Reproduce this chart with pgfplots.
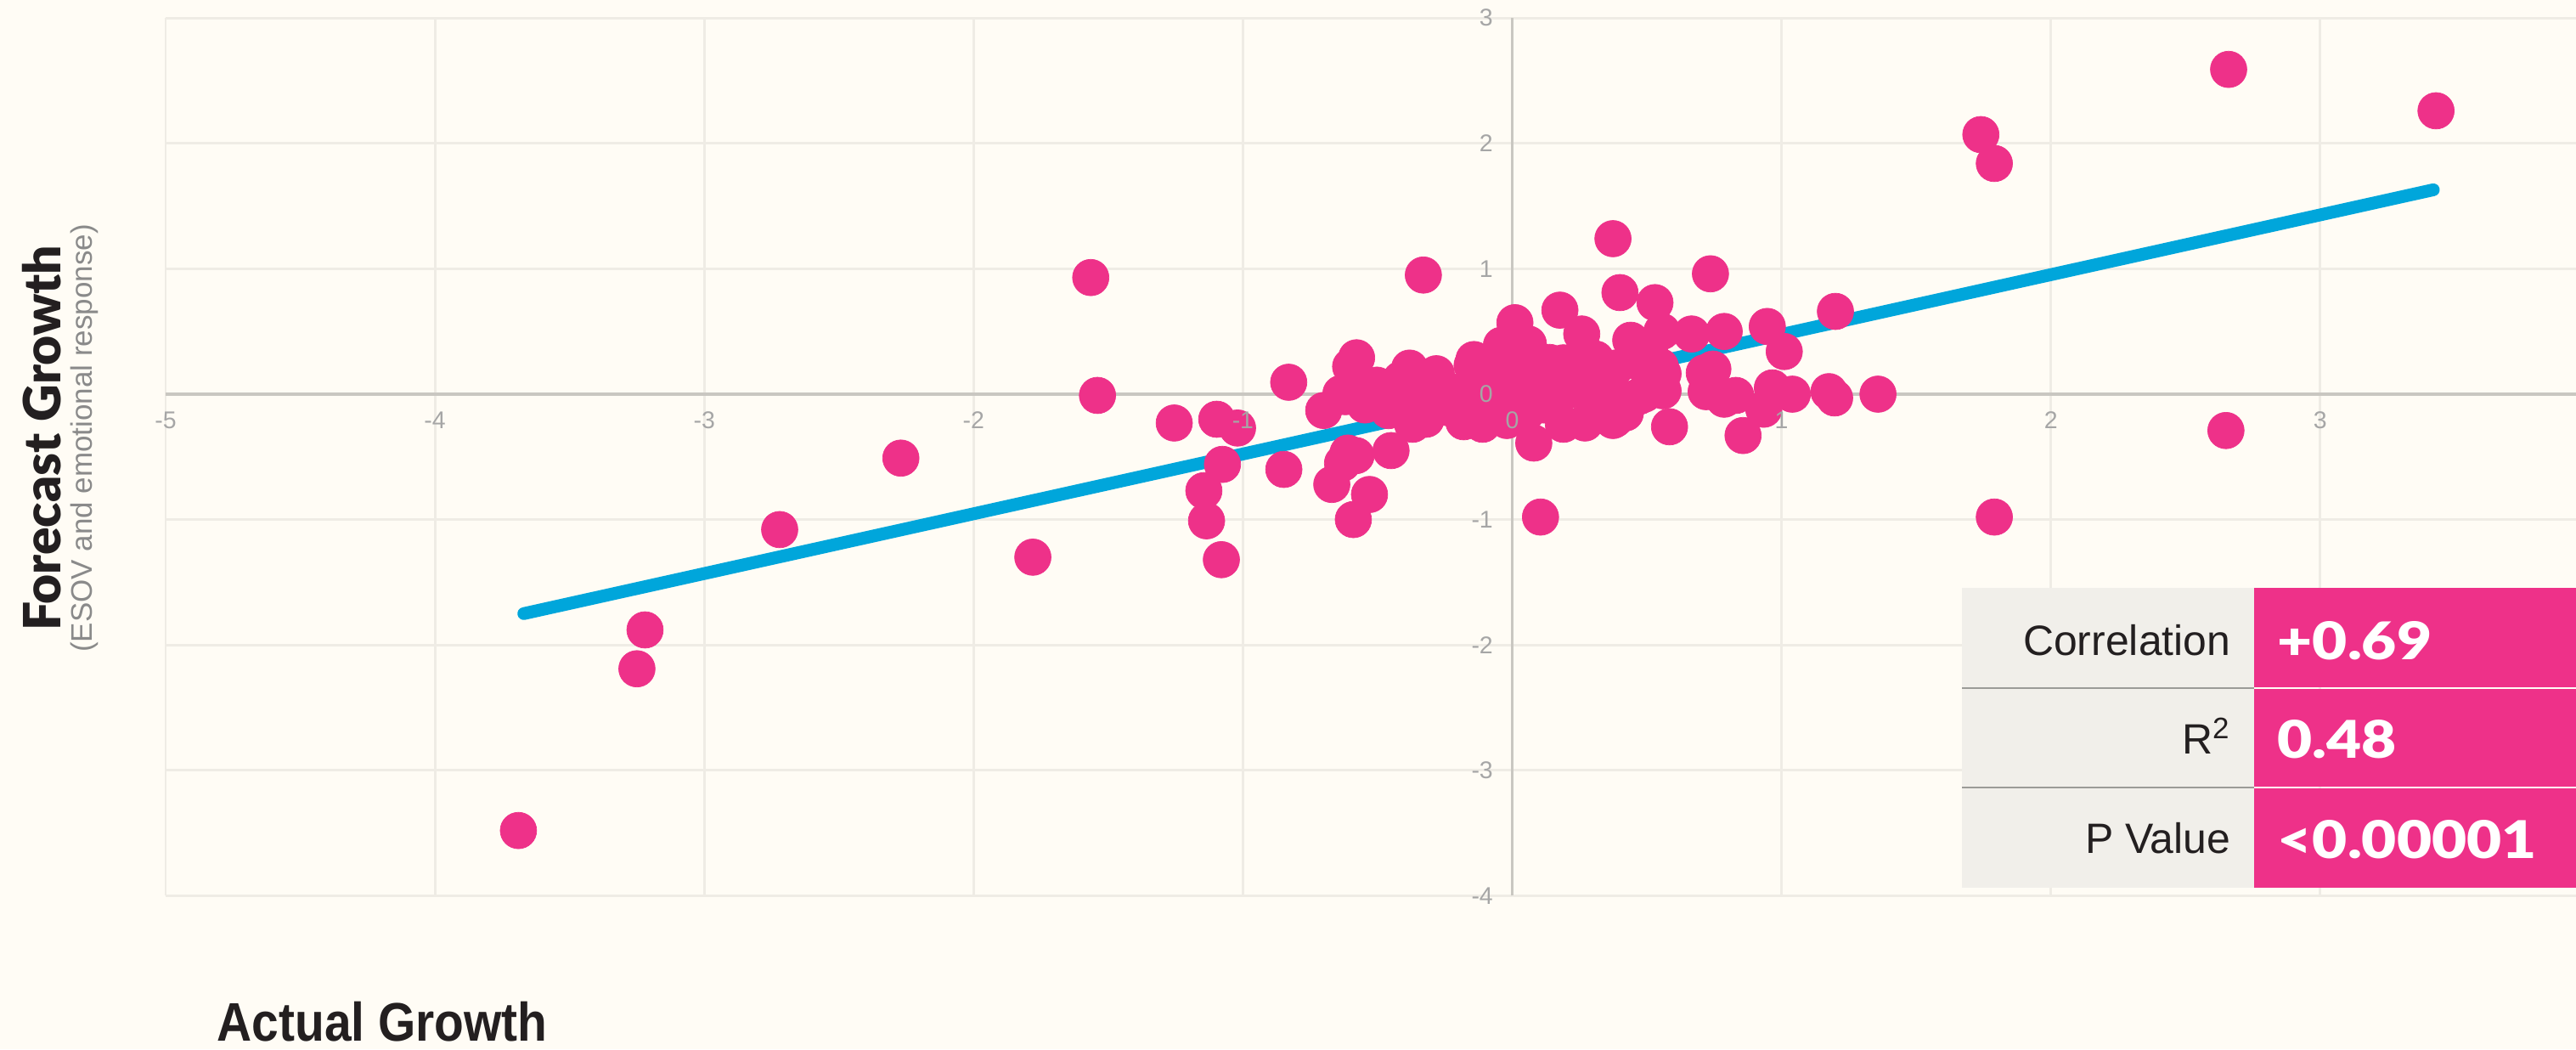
\documentclass[border=0pt]{standalone}
\usepackage{fontspec}
\setmainfont{Liberation Sans}
\newfontfamily\heavy{Lato Black}
\usepackage{graphicx}
\usepackage{pgfplots}
\pgfplotsset{compat=1.18}
\definecolor{bg}{HTML}{FFFCF5}
\definecolor{gridc}{HTML}{EFECE5}
\definecolor{axisc}{HTML}{C9C7C1}
\definecolor{tickc}{HTML}{A6A6A6}
\definecolor{dotc}{HTML}{EE3189}
\definecolor{linec}{HTML}{00A6DB}
\definecolor{tabbg}{HTML}{F1EFEA}
\definecolor{tabsep}{HTML}{9B9B97}
\definecolor{txt}{HTML}{231F20}
\definecolor{subc}{HTML}{8A8A8A}

\pgfplotsset{
  myaxis/.style={
    anchor=origin, at={(17.805cm,7.71cm)},
    x=3.171cm, y=1.476cm,
    xmin=-5, xmax=3.95, ymin=-4, ymax=3,
    axis lines=middle,
    xtick={-5,...,3}, ytick={-4,...,3},
    major tick length=0pt,
    hide obscured x ticks=false, hide obscured y ticks=false,
    /pgf/number format/assume math mode=true,
    ticklabel style={font=\fontsize{8.1}{9}\selectfont, text=tickc, inner sep=0pt},
    xticklabel style={anchor=north, yshift=-0.2cm},
    yticklabel style={anchor=east, xshift=-0.22cm},
  },
}

\pgfplotstableread{
x y
2.66 2.59
3.43 2.26
1.74 2.07
1.79 1.84
2.65 -0.29
1.79 -0.98
-3.69 -3.48
-3.22 -1.88
-3.25 -2.19
-2.72 -1.08
-2.27 -0.51
-1.78 -1.30
-1.565 0.93
-1.54 -0.01
-1.255 -0.23
-1.097 -0.20
-1.02 -0.27
-1.076 -0.56
-1.145 -0.77
-1.135 -1.01
-1.08 -1.32
-0.83 0.095
-0.848 -0.60
-0.67 -0.72
-0.53 -0.80
-0.59 -1.00
-0.63 -0.55
-0.58 -0.49
-0.45 -0.45
-0.61 -0.47
-0.33 0.95
-0.578 0.29
-0.60 0.22
-0.70 -0.13
-0.62 -0.02
-0.42 0.07
-0.38 0.13
-0.285 0.095
-0.14 0.22
-0.04 0.39
0.01 0.57
0.374 1.24
0.736 0.96
0.40 0.81
0.53 0.73
0.177 0.67
0.258 0.48
0.06 0.40
0.44 0.43
0.556 0.50
0.666 0.48
0.787 0.50
0.947 0.54
1.01 0.34
1.20 0.66
0.745 0.20
0.713 0.17
0.55 0.22
0.49 0.00
0.72 0.02
0.787 -0.04
0.83 -0.01
0.966 0.05
1.04 0.00
0.934 -0.12
1.176 0.02
1.197 -0.03
1.358 0.00
0.857 -0.33
0.584 -0.26
0.42 -0.15
0.374 -0.21
0.27 -0.23
0.19 -0.24
0.08 -0.39
0.105 -0.98
0.31 0.28
0.19 0.25
0.10 0.21
-0.18 -0.22
-0.11 -0.24
-0.02 -0.21
-0.32 -0.20
-0.37 -0.24
-0.636 0.005
-0.591 0.072
-0.503 0.072
-0.414 0.117
-0.381 0.208
-0.282 0.163
-0.237 0.027
-0.149 0.230
-0.142 0.276
-0.060 0.208
0.006 0.388
0.006 0.208
0.073 0.208
0.139 0.253
0.228 0.230
0.294 0.208
0.382 0.208
0.471 0.253
0.515 0.298
-0.547 -0.086
-0.459 -0.131
-0.237 -0.108
-0.060 -0.108
0.050 -0.154
0.117 -0.086
0.382 -0.199
0.471 -0.018
0.382 0.004
0.294 -0.018
0.205 0.027
0.117 0.072
0.028 0.027
-0.060 0.050
-0.149 -0.018
-0.326 -0.018
-0.414 -0.018
0.560 0.027
0.560 0.163
}\dots

\begin{document}
\begin{tikzpicture}
\useasboundingbox (0,0) rectangle (30.33,12.35);
\clip (0,0) rectangle (30.33,12.35);
\fill[bg] (0,0) rectangle (30.33,12.35);
% main axis: grid, axis lines, data
\begin{axis}[
  myaxis,
  axis line style={-, draw=axisc, line width=1pt},
  grid=major,
  major grid style={draw=gridc, line width=0.85pt},
  xticklabels={}, yticklabels={},
]
\addplot[only marks, mark=*, mark size=6.1pt,
  mark options={fill=dotc, draw=dotc, line width=0.2pt}] table[x=x, y=y] {\dots};
\addplot[linec, line width=4.27pt, line cap=round] coordinates {(-3.67,-1.75) (3.42,1.63)};
\end{axis}
% overlay axis: tick labels only, drawn above the data
\begin{axis}[
  myaxis,
  axis line style={draw=none},
  grid=none,
]
\end{axis}

% axis titles
\node[rotate=90, anchor=base, inner sep=0pt, text=txt,
  font=\fontsize{17.2}{19}\selectfont\heavy] at (0.71,7.19) {Forecast Growth};
\node[rotate=90, anchor=base, inner sep=0pt, text=subc,
  font=\fontsize{9.96}{12}\selectfont] at (1.08,7.19) {(ESOV and emotional response)};
\node[anchor=base west, inner sep=0pt, text=txt,
  font=\fontsize{18.2}{20}\selectfont\bfseries] at (2.55,0.10) {\scalebox{0.89}[1]{Actual Growth}};

% stats table
\fill[tabbg] (23.10,1.90) rectangle (26.54,5.43);
\fill[dotc] (26.54,4.262) rectangle (30.33,5.43);
\fill[dotc] (26.54,3.092) rectangle (30.33,4.238);
\fill[dotc] (26.54,1.90) rectangle (30.33,3.068);
\draw[tabsep, line width=0.71pt] (23.10,4.25) -- (26.54,4.25);
\draw[tabsep, line width=0.71pt] (23.10,3.08) -- (26.54,3.08);
\begin{scope}[every node/.style={anchor=base east, inner sep=0pt, text=txt,
  font=\fontsize{14.2}{16}\selectfont}]
\node at (26.27,4.63) {Correlation};
\node at (26.27,3.47) {R\textsuperscript{2}};
\node at (26.27,2.30) {P Value};
\end{scope}
\begin{scope}[every node/.style={anchor=base west, inner sep=0pt, text=white,
  font=\fontsize{17.4}{20}\selectfont\heavy}]
\node at (26.81,4.58) {\scalebox{1.16}[1]{+0.69}};
\node at (26.81,3.42) {\scalebox{1.16}[1]{0.48}};
\node at (26.81,2.24) {\scalebox{1.16}[1]{<0.00001}};
\end{scope}
\end{tikzpicture}
\end{document}
